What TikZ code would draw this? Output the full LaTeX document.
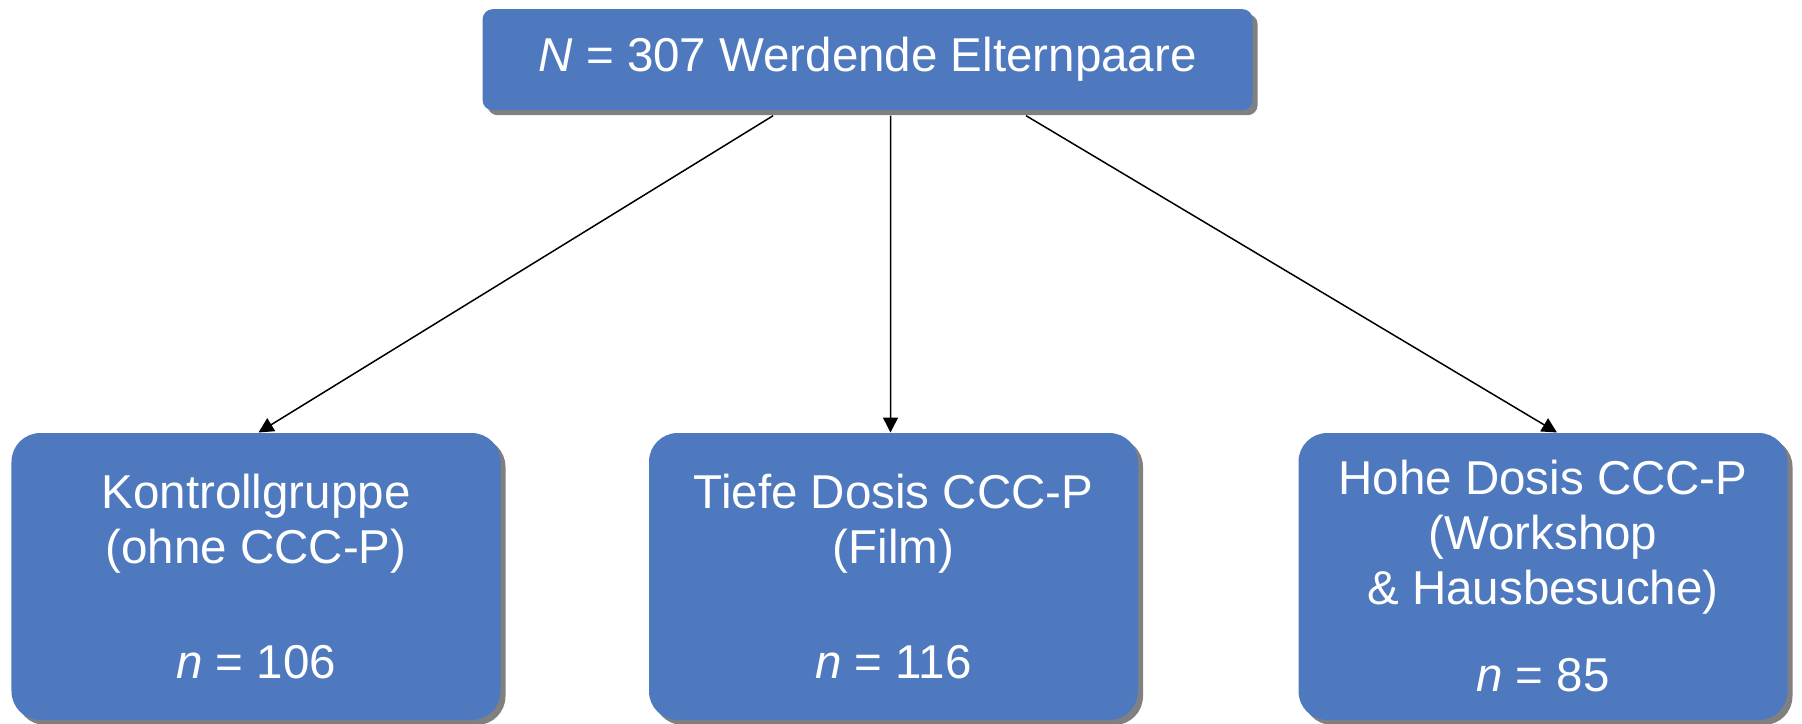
\documentclass[tikz,border=0pt]{standalone}
\usepackage{fontspec}
\setmainfont{Liberation Sans}
\usetikzlibrary{shadows,arrows.meta,calc}
\definecolor{boxblue}{RGB}{79,121,191}
\definecolor{shadowgray}{RGB}{128,128,128}
\begin{document}
\begin{tikzpicture}[x=0.4pt,y=-0.4pt,
  boxstyle/.style={fill=boxblue, draw=none, text=white, align=center,
    font=\fontsize{19}{22}\selectfont, inner sep=0pt,
    drop shadow={shadow xshift=2pt, shadow yshift=-2pt, fill=shadowgray, opacity=1}},
  topbox/.style={boxstyle, rounded corners=4pt, minimum width=308pt, minimum height=40.4pt},
  groupbox/.style={boxstyle, rounded corners=11.5pt, minimum width=195.6pt, minimum height=114.8pt},
  conn/.style={draw=black, line width=0.6pt, -{Triangle[length=6pt,width=6pt]}}]
\useasboundingbox (0,0) rectangle (1802,723);
\node[topbox] (top) at (867.6,59.7) {\textit{N} = 307 Werdende Elternpaare};
\node[groupbox] (kg) at (256,576.5) {Kontrollgruppe\\(ohne CCC-P)\\[24pt]\textit{n} = 106};
\node[groupbox] (td) at (893.5,576.5) {Tiefe Dosis CCC-P\\(Film)\\[24pt]\textit{n} = 116};
\node[groupbox] (hd) at (1543,576.5) {Hohe Dosis CCC-P\\(Workshop\\\&~Hausbesuche)\\[12.8pt]\textit{n} = 85};
\coordinate (s1) at ([xshift=-37.8pt,yshift=-2pt]top.south);
\coordinate (s2) at ([xshift=9.2pt,yshift=-2pt]top.south);
\coordinate (s3) at ([xshift=63.4pt,yshift=-2pt]top.south);
\coordinate (e1) at ([xshift=1pt]kg.north);
\coordinate (e2) at ([xshift=-1.2pt]td.north);
\coordinate (e3) at ([xshift=5.6pt]hd.north);
\draw[conn] (s1) -- (e1);
\draw[conn] (s2) -- (e2);
\draw[conn] (s3) -- (e3);
\end{tikzpicture}
\end{document}
